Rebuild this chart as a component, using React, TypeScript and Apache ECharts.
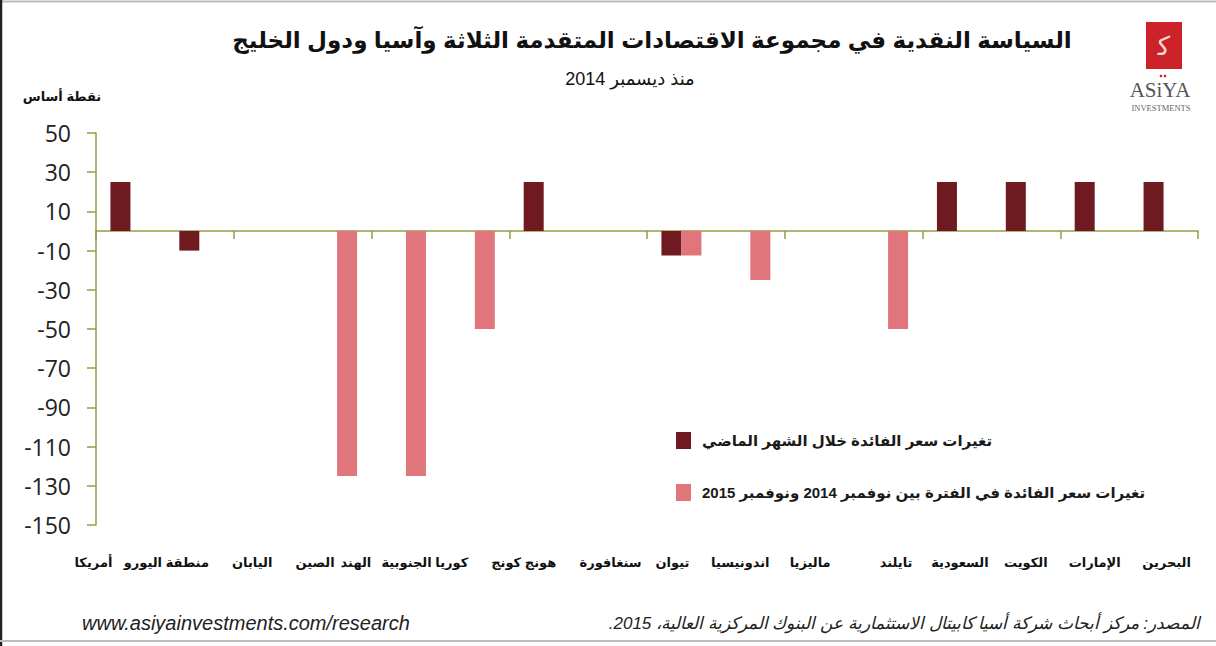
import React, { useEffect, useRef } from "react";
import * as echarts from "echarts";

const categories = [
  "أمريكا",
  "منطقة اليورو",
  "اليابان",
  "الصين",
  "الهند",
  "كوريا الجنوبية",
  "هونج كونج",
  "سنغافورة",
  "تيوان",
  "اندونيسيا",
  "ماليزيا",
  "تايلند",
  "السعودية",
  "الكويت",
  "الإمارات",
  "البحرين",
];

const lastMonth = [25, -10, null, null, null, null, 25, null, -12.5, null, null, null, 25, 25, 25, 25];
const sinceNov2014 = [null, null, null, -125, -125, -50, null, null, -12.5, -25, null, -50, null, null, null, null];

const yTickLabels = ["-150", "-130", "-110", "-90", "-70", "-50", "-30", "-10", "10", "30", "50"];

const seriesNames = [
  "تغيرات سعر الفائدة خلال الشهر الماضي",
  "تغيرات سعر الفائدة في الفترة بين نوفمبر 2014 ونوفمبر 2015",
];

const titleText = "السياسة النقدية في مجموعة الاقتصادات المتقدمة الثلاثة وآسيا ودول الخليج";
const subtitleText = "منذ ديسمبر 2014";
const yName = "نقطة أساس";
const urlText = "www.asiyainvestments.com/research";
const sourceText = "\u200Fالمصدر: مركز أبحاث شركة أسيا كابيتال الاستثمارية عن البنوك المركزية العالية، 2015.\u200F";

// horizontal nudges (px) of the category labels, as laid out in the original
const labelNudge = [-37, -33, -16, -22, -50, -50, -20, -2, -9, -10, -9, 8, 3, 0, 0, 3];

const AR = "'Liberation Sans', 'DejaVu Sans', sans-serif";
const AXIS = "#9a9a45";

export default function App() {
  const ref = useRef<HTMLDivElement>(null);
  useEffect(() => {
    if (!ref.current) return;
    const chart = echarts.init(ref.current, undefined, { renderer: "svg" });
    const labelData = categories.map((c, i) => {
      const d = labelNudge[i];
      return {
        value: c,
        textStyle: { padding: d < 0 ? [0, -2 * d, 0, 0] : [0, 0, 0, 2 * d] },
      };
    });
    chart.setOption({
      animation: false,
      backgroundColor: "#ffffff",
      grid: { left: 96, right: 18, top: 133, bottom: 121, containLabel: false },
      legend: {
        orient: "vertical",
        left: 671,
        top: 427,
        itemWidth: 15,
        itemHeight: 17,
        itemGap: 35,
        icon: "rect",
        textStyle: { fontFamily: AR, fontWeight: "bold", fontSize: 15, color: "#1a1a1a", padding: [0, 0, 0, 6] },
        data: seriesNames,
      },
      xAxis: [
        {
          type: "category",
          data: categories,
          axisLine: { onZero: true, onZeroAxisIndex: 0, lineStyle: { color: AXIS, width: 1.5 } },
          axisTick: { show: true, length: 8, lineStyle: { color: AXIS, width: 1.5 } },
          axisLabel: { show: false },
        },
        {
          type: "category",
          data: labelData,
          position: "bottom",
          axisLine: { show: false },
          axisTick: { show: false },
          axisLabel: {
            interval: 0,
            margin: 31,
            fontFamily: AR,
            fontWeight: "bold",
            fontSize: 13,
            color: "#111",
          },
        },
      ],
      yAxis: [
        {
          type: "value",
          min: -150,
          max: 50,
          show: false,
          splitLine: { show: false },
        },
        {
          type: "category",
          data: yTickLabels,
          boundaryGap: false,
          position: "left",
          axisLine: { show: true, lineStyle: { color: AXIS, width: 1.5 } },
          axisTick: { show: true, length: 9, inside: false, lineStyle: { color: AXIS, width: 1.5 } },
          axisLabel: {
            margin: 25,
            fontFamily: "'Open Sans', 'Noto Sans', sans-serif",
            fontSize: 23,
            color: "#222",
          },
          splitLine: { show: false },
        },
      ],
      series: [
        {
          name: seriesNames[0],
          type: "bar",
          xAxisIndex: 0,
          yAxisIndex: 0,
          data: lastMonth,
          barWidth: 20,
          barGap: "0%",
          itemStyle: { color: "#6e1a20" },
        },
        {
          name: seriesNames[1],
          type: "bar",
          xAxisIndex: 0,
          yAxisIndex: 0,
          data: sinceNov2014,
          barWidth: 20,
          barGap: "0%",
          itemStyle: { color: "#e0767c" },
        },
      ],
      graphic: [
        { type: "line", shape: { x1: 0, y1: 1.5, x2: 1216, y2: 1.5 }, style: { stroke: "#bdbdbd", lineWidth: 2 } },
        { type: "line", shape: { x1: 1, y1: 0, x2: 1, y2: 646 }, style: { stroke: "#222", lineWidth: 2.5 } },
        { type: "line", shape: { x1: 0, y1: 641, x2: 1216, y2: 641 }, style: { stroke: "#bdbdbd", lineWidth: 2 } },
        {
          type: "text",
          x: 652,
          y: 40,
          style: {
            text: titleText,
            fontFamily: AR,
            fontWeight: "bold",
            fontSize: 23,
            fill: "#111",
            textAlign: "center",
            textVerticalAlign: "middle",
          },
        },
        {
          type: "text",
          x: 630,
          y: 79,
          style: {
            text: subtitleText,
            fontFamily: AR,
            fontSize: 18,
            fill: "#111",
            textAlign: "center",
            textVerticalAlign: "middle",
          },
        },
        {
          type: "text",
          x: 62,
          y: 96,
          style: {
            text: yName,
            fontFamily: AR,
            fontWeight: "bold",
            fontSize: 13,
            fill: "#111",
            textAlign: "center",
            textVerticalAlign: "middle",
          },
        },
        {
          type: "text",
          x: 82,
          y: 623,
          style: {
            text: urlText,
            fontFamily: "'Liberation Sans', Arial, sans-serif",
            fontStyle: "italic",
            fontSize: 20,
            fill: "#222",
            textAlign: "left",
            textVerticalAlign: "middle",
          },
        },
        {
          type: "text",
          x: 1200,
          y: 623,
          style: {
            text: sourceText,
            fontFamily: AR,
            fontStyle: "italic",
            fontSize: 17,
            fill: "#222",
            textAlign: "right",
            textVerticalAlign: "middle",
          },
        },
        { type: "rect", shape: { x: 1146, y: 22, width: 36, height: 47 }, style: { fill: "#cc2229" } },
        {
          type: "text",
          x: 1164,
          y: 46,
          style: {
            text: "ﻛ",
            fontFamily: AR,
            fontSize: 26,
            fill: "#f6d9d0",
            textAlign: "center",
            textVerticalAlign: "middle",
          },
        },
        { type: "circle", shape: { cx: 1161, cy: 76, r: 1.3 }, style: { fill: "#cc2229" } },
        { type: "circle", shape: { cx: 1165, cy: 76, r: 1.3 }, style: { fill: "#cc2229" } },
        {
          type: "text",
          x: 1160,
          y: 90,
          style: {
            text: "ASiYA",
            fontFamily: "'Liberation Serif', 'DejaVu Serif', serif",
            fontSize: 21,
            fill: "#555",
            textAlign: "center",
            textVerticalAlign: "middle",
          },
        },
        {
          type: "text",
          x: 1161,
          y: 108,
          style: {
            text: "INVESTMENTS",
            fontFamily: "'Liberation Serif', 'DejaVu Serif', serif",
            fontSize: 8.5,
            fill: "#666",
            textAlign: "center",
            textVerticalAlign: "middle",
          },
        },
      ],
    });
    return () => chart.dispose();
  }, []);
  return (
    <div
      ref={ref}
      style={{ position: "fixed", left: 0, top: 0, width: 1216, height: 646, background: "#fff" }}
    />
  );
}
